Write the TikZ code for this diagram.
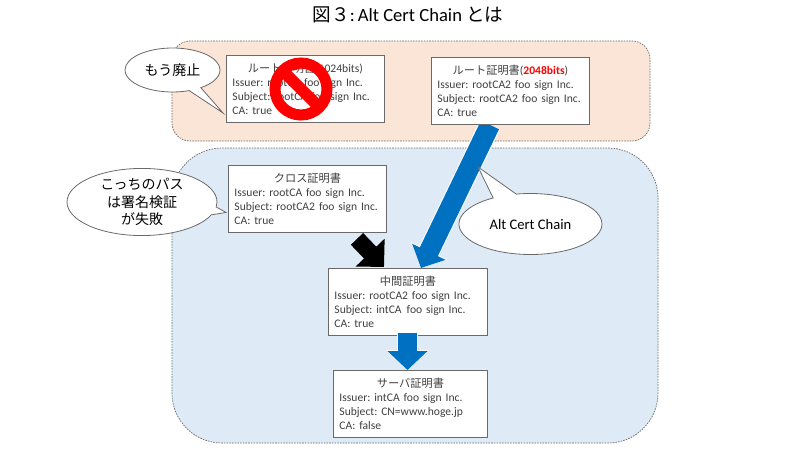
\documentclass[tikz,border=0pt]{standalone}
\usepackage{fontspec}
\setmainfont[WordSpace=0.7]{Carlito}
\newfontfamily\jp{Noto Sans CJK JP}
\newfontfamily\plainlatin{Carlito}
\usetikzlibrary{arrows.meta,shapes.callouts,calc}
\pgfdeclarelayer{panels}
\pgfdeclarelayer{links}
\pgfsetlayers{panels,links,main}
\definecolor{peachfill}{HTML}{FBE5D6}
\definecolor{bluefill}{HTML}{DEEBF7}
\definecolor{flowblue}{HTML}{0070C0}
\definecolor{edgegray}{HTML}{6A6A6A}
\definecolor{bodytext}{HTML}{404040}
\tikzset{
  panel/.style={draw=edgegray,line width=0.7pt,dash pattern=on 1.6pt off 1.1pt},
  certbox/.style={draw=edgegray,line width=0.9pt,fill=white,anchor=north west,inner xsep=6pt,inner ysep=0pt,
    text width=#1,align=left,text=bodytext,font=\fontsize{11.6}{14}\selectfont\frenchspacing},
  bubble/.style={ellipse callout,draw=edgegray,line width=0.8pt,fill=white,inner sep=0pt,align=center,
    font=\fontsize{14}{18.5}\selectfont,text=black},
  halo/.style n args={3}{white,line width=#1+2pt,-{Triangle[length=#2+1pt,width=#3+3pt]}},
  blockarrow/.style n args={4}{#4,line width=#1,-{Triangle[length=#2,width=#3]}}
}
\newcommand{\certhead}[1]{\makebox[\linewidth][c]{\strut\smash{#1}}\\}
\newcommand{\headjp}[1]{{\jp\fontsize{11.2}{14}\selectfont #1}}
\begin{document}
\begin{tikzpicture}[x=1pt,y=-1pt]
\useasboundingbox (0,0) rectangle (800,450);
\node[font=\plainlatin\fontsize{18.6}{20}\selectfont,text=black] (title) at (408,15) {{\jp 図３}:\,Alt Cert Chain {\jp とは}};
\begin{pgfonlayer}{panels}
\draw[panel,fill=peachfill,rounded corners=18pt] (172,41) rectangle (650,141);
\draw[panel,fill=bluefill,rounded corners=50pt] (172,148) rectangle (658,443);
\end{pgfonlayer}
\node[certbox=146pt,minimum height=67pt] (rootold) at (226,55)
  {\certhead{\headjp{ルート証明書}(1024bits)}Issuer: rootCA foo sign Inc.\\Subject: rootCA foo sign Inc.\\CA: true};
\node[certbox=146pt,minimum height=67pt] (rootnew) at (431,57)
  {\certhead{\headjp{ルート証明書}(\textcolor{red}{\textbf{2048bits}})}Issuer: rootCA2 foo sign Inc.\\Subject: rootCA2 foo sign Inc.\\CA: true};
\node[certbox=146pt,minimum height=67pt] (cross) at (228,165)
  {\certhead{\headjp{クロス証明書}}Issuer: rootCA foo sign Inc.\\Subject: rootCA2\kern4pt foo sign Inc.\\CA: true};
\node[certbox=147pt,minimum height=67pt] (inter) at (328,268)
  {\certhead{\headjp{中間証明書}}Issuer: rootCA2 foo sign Inc.\\Subject: intCA\kern5pt foo sign Inc.\\CA: true};
\node[certbox=142pt,minimum height=67pt] (server) at (333,370)
  {\certhead{\headjp{サーバ証明書}}Issuer: intCA foo sign Inc.\\Subject: CN=www.hoge.jp\\CA: false};
% block arrows, anchored on the boxes
\coordinate (bigtail) at ($(rootnew.south west)+(59,0)$);
\coordinate (bigtip) at ($(inter.north west)+(93,0)$);
\coordinate (blacktail) at ($(cross.south west)+(129,6)$);
\coordinate (blacktip) at ($(inter.north west)+(56,-1)$);
\coordinate (downtail) at ($(inter.south west)+(79.5,-3)$);
\coordinate (downtip) at ($(server.north west)+(74.5,0)$);
\begin{pgfonlayer}{links}
\draw[halo={20pt}{18pt}{36pt}] (bigtail) -- (bigtip);
\draw[blockarrow={20pt}{18pt}{36pt}{flowblue}] (bigtail) -- (bigtip);
\draw[blockarrow={17pt}{20pt}{39pt}{black}] (blacktail) -- (blacktip);
\end{pgfonlayer}
\draw[halo={19pt}{19pt}{39pt}] (downtail) -- (downtip);
\draw[blockarrow={19pt}{19pt}{39pt}{flowblue}] (downtail) -- (downtip);
% speech bubbles
\node[bubble,minimum width=95pt,minimum height=44pt,callout absolute pointer={(rootold.west)+(-3,24)},callout pointer arc=16] (gone) at (172.5,70) {\jp もう廃止};
\node[bubble,minimum width=150pt,minimum height=57pt,callout absolute pointer={(cross.west)+(-2,13.5)},callout pointer arc=14] (fail) at (142,202) {\jp こっちのパス\\[-1pt]\jp は署名検証\\[-1pt]\jp が失敗};
\node[bubble,minimum width=143pt,minimum height=61pt,callout absolute pointer={(478,167)},callout pointer arc=20,font=\plainlatin\fontsize{14.6}{18.5}\selectfont] (alt) at (530.5,224) {Alt Cert Chain};
% prohibition sign over the old root certificate
\node[circle,draw=red,line width=11pt,minimum size=52pt,inner sep=0pt,outer sep=0pt] (ban) at (301,89) {};
\draw[red,line width=11.5pt] (ban.north west) -- (ban.south east);
\end{tikzpicture}
\end{document}
